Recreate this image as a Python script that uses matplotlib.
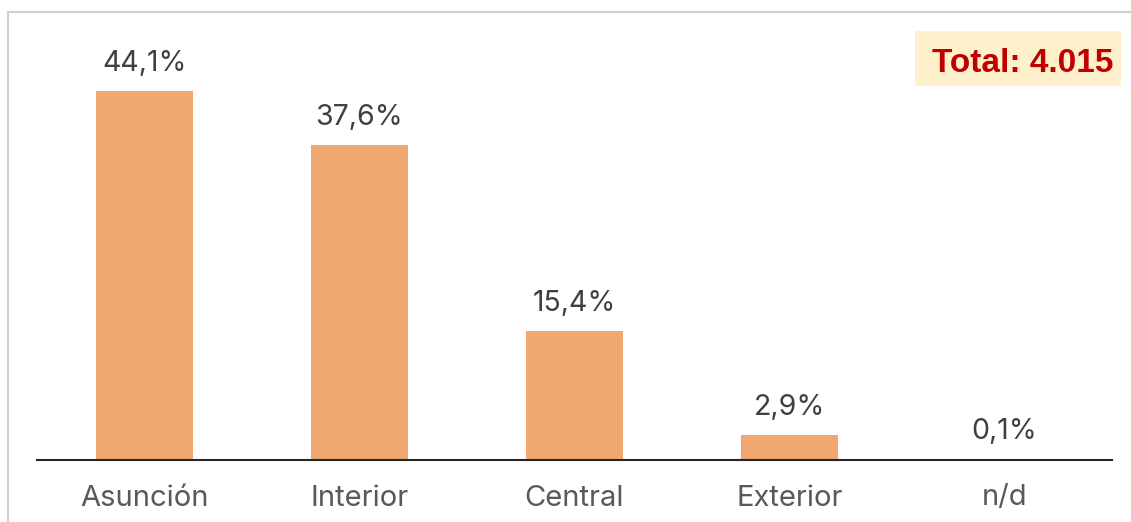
import matplotlib
matplotlib.use("Agg")
import matplotlib.pyplot as plt
from matplotlib.patches import Rectangle

categories = ["Asunción", "Interior", "Central", "Exterior", "n/d"]
shares = [44.1, 37.6, 15.4, 2.9, 0.1]
value_labels = ["44,1%", "37,6%", "15,4%", "2,9%", "0,1%"]
total_label = "Total: 4.015"

W, H = 1131, 522
fig = plt.figure(figsize=(W / 100, H / 100), dpi=100)

# light frame around the figure (only top and left edges visible)
fig.add_artist(Rectangle((8 / W, -0.1), 1.2, (H - 12) / H + 0.1,
                         transform=fig.transFigure, fill=False,
                         edgecolor="#d0d0d0", linewidth=1.5))

ax_left, ax_right = 37, 1112
ax_bottom, ax_top = 459.5, 40
ax = fig.add_axes([ax_left / W, (H - ax_bottom) / H,
                   (ax_right - ax_left) / W, (ax_bottom - ax_top) / H])

x = range(len(categories))
ax.bar(x, shares, width=0.45, color="#F1A772", zorder=2)
ax.set_xlim(-0.5, len(categories) - 0.5)
ax.set_ylim(0, (ax_bottom - ax_top) / 8.36)

label_font = "Inter"
for xi, v, lab in zip(x, shares, value_labels):
    ax.annotate(lab, (xi, v), xytext=(0, 10), textcoords="offset points",
                ha="center", va="bottom", fontsize=20.5, family=label_font,
                color="#404040")

ax.set_xticks(list(x))
ax.set_xticklabels(categories, fontsize=21, family=label_font, color="#595959")
ax.tick_params(axis="x", length=0, pad=18)
ax.set_yticks([])
for side in ("top", "right", "left"):
    ax.spines[side].set_visible(False)
ax.spines["bottom"].set_color("#262626")
ax.spines["bottom"].set_linewidth(1.5)

# total annotation box
fig.add_artist(Rectangle((915 / W, (H - 86) / H), (1121 - 915) / W, 55 / H,
                         transform=fig.transFigure, facecolor="#FFF0CC",
                         edgecolor="none"))
fig.text(1113 / W, (H - 60) / H, total_label, ha="right", va="center_baseline",
         fontsize=24, fontweight="bold", family="Liberation Sans",
         color="#C00000")

fig.savefig("out.png", dpi=100, facecolor="white")
